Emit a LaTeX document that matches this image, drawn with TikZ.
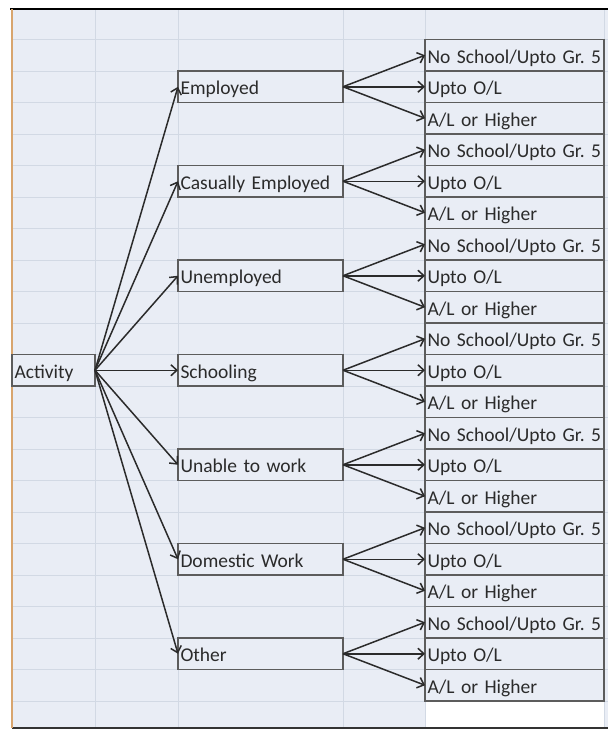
\documentclass[tikz,border=0pt]{standalone}
\usepackage{fontspec}
\setmainfont{Carlito}
\usepackage{tikz}
\usetikzlibrary{positioning, arrows.meta}
\definecolor{sheet}{HTML}{E9EDF5}
\definecolor{gridline}{HTML}{D2D9E4}
\definecolor{boxline}{HTML}{5C5C5C}
\definecolor{ink}{HTML}{2B2B2B}
\definecolor{edgetan}{HTML}{D8A56E}
\newcommand{\schoolfont}{\fontsize{19.5pt}{22pt}\selectfont\frenchspacing\spaceskip=0.18em plus 0.05em\relax}
\tikzstyle{sheetbox} = [rectangle, draw=boxline, line width=1.4pt, fill=sheet, minimum height=31.5pt, inner xsep=2.5pt, inner ysep=0pt, outer sep=0pt, align=left, text height=20pt, text depth=4pt, text=ink, font=\fontsize{19.5pt}{22pt}\selectfont, execute at begin node={\hbox\bgroup}, execute at end node={\egroup}]
\tikzstyle{rootbox} = [sheetbox, minimum width=83pt, text width=78pt]
\tikzstyle{statusbox} = [sheetbox, minimum width=165pt, text width=160pt]
\tikzstyle{schoolbox} = [sheetbox, minimum width=179pt, text width=174pt, font=\schoolfont]
\tikzstyle{arrow} = [line width=1.5pt, draw=ink, ->, >={Straight Barb[length=6pt,width=11pt]}]
\begin{document}
\begin{tikzpicture}[x=1pt, y=-1pt, node distance=63pt]
\useasboundingbox (0,0) rectangle (608,731);
% spreadsheet behind the tree
\fill[sheet] (12,9) rectangle (608,728);
\foreach \y in {39.5,71,...,701} \draw[gridline, line width=1pt] (12,\y) -- (608,\y);
\foreach \x in {95,178,343,425,604} \draw[gridline, line width=1pt] (\x,9) -- (\x,728);
\fill[white] (425.5,701.5) rectangle (603.5,727.5);
\draw[black, line width=2.5pt] (10,9) -- (608,9);
\draw[black!80, line width=2pt] (12,728) -- (608,728);
\draw[edgetan, line width=1.5pt] (12,9) -- (12,728);

\node (activity) [rootbox] at (53.5,370.25) {Activity};
\node (employed) [statusbox] at (260.5,86.75) {Employed};
\node (casual) [statusbox, below=of employed] {Casually Employed};
\node (unemployed) [statusbox, below=of casual] {Unemployed};
\node (schooling) [statusbox, below=of unemployed] {Schooling};
\node (unable) [statusbox, below=of schooling] {Unable to work};
\node (domestic) [statusbox, below=of unable] {Domestic Work};
\node (other) [statusbox, below=of domestic] {Other};

\node (employedOL) [schoolbox, right=82pt of employed] {Upto O/L};
\node (employedNone) [schoolbox, above=0pt of employedOL] {No School/Upto Gr. 5};
\node (employedAL) [schoolbox, below=0pt of employedOL] {A/L or Higher};
\node (casualOL) [schoolbox, right=82pt of casual] {Upto O/L};
\node (casualNone) [schoolbox, above=0pt of casualOL] {No School/Upto Gr. 5};
\node (casualAL) [schoolbox, below=0pt of casualOL] {A/L or Higher};
\node (unemployedOL) [schoolbox, right=82pt of unemployed] {Upto O/L};
\node (unemployedNone) [schoolbox, above=0pt of unemployedOL] {No School/Upto Gr. 5};
\node (unemployedAL) [schoolbox, below=0pt of unemployedOL] {A/L or Higher};
\node (schoolingOL) [schoolbox, right=82pt of schooling] {Upto O/L};
\node (schoolingNone) [schoolbox, above=0pt of schoolingOL] {No School/Upto Gr. 5};
\node (schoolingAL) [schoolbox, below=0pt of schoolingOL] {A/L or Higher};
\node (unableOL) [schoolbox, right=82pt of unable] {Upto O/L};
\node (unableNone) [schoolbox, above=0pt of unableOL] {No School/Upto Gr. 5};
\node (unableAL) [schoolbox, below=0pt of unableOL] {A/L or Higher};
\node (domesticOL) [schoolbox, right=82pt of domestic] {Upto O/L};
\node (domesticNone) [schoolbox, above=0pt of domesticOL] {No School/Upto Gr. 5};
\node (domesticAL) [schoolbox, below=0pt of domesticOL] {A/L or Higher};
\node (otherOL) [schoolbox, right=82pt of other] {Upto O/L};
\node (otherNone) [schoolbox, above=0pt of otherOL] {No School/Upto Gr. 5};
\node (otherAL) [schoolbox, below=0pt of otherOL] {A/L or Higher};

\draw [arrow] (activity.east) -- (employed.west);
\draw [arrow] (activity.east) -- (casual.west);
\draw [arrow] (activity.east) -- (unemployed.west);
\draw [arrow] (activity.east) -- (schooling.west);
\draw [arrow] (activity.east) -- (unable.west);
\draw [arrow] (activity.east) -- (domestic.west);
\draw [arrow] (activity.east) -- (other.west);

\draw [arrow] (employed.east) -- (employedNone.west);
\draw [arrow] (employed.east) -- (employedOL.west);
\draw [arrow] (employed.east) -- (employedAL.west);
\draw [arrow] (casual.east) -- (casualNone.west);
\draw [arrow] (casual.east) -- (casualOL.west);
\draw [arrow] (casual.east) -- (casualAL.west);
\draw [arrow] (unemployed.east) -- (unemployedNone.west);
\draw [arrow] (unemployed.east) -- (unemployedOL.west);
\draw [arrow] (unemployed.east) -- (unemployedAL.west);
\draw [arrow] (schooling.east) -- (schoolingNone.west);
\draw [arrow] (schooling.east) -- (schoolingOL.west);
\draw [arrow] (schooling.east) -- (schoolingAL.west);
\draw [arrow] (unable.east) -- (unableNone.west);
\draw [arrow] (unable.east) -- (unableOL.west);
\draw [arrow] (unable.east) -- (unableAL.west);
\draw [arrow] (domestic.east) -- (domesticNone.west);
\draw [arrow] (domestic.east) -- (domesticOL.west);
\draw [arrow] (domestic.east) -- (domesticAL.west);
\draw [arrow] (other.east) -- (otherNone.west);
\draw [arrow] (other.east) -- (otherOL.west);
\draw [arrow] (other.east) -- (otherAL.west);
\end{tikzpicture}
\end{document}
